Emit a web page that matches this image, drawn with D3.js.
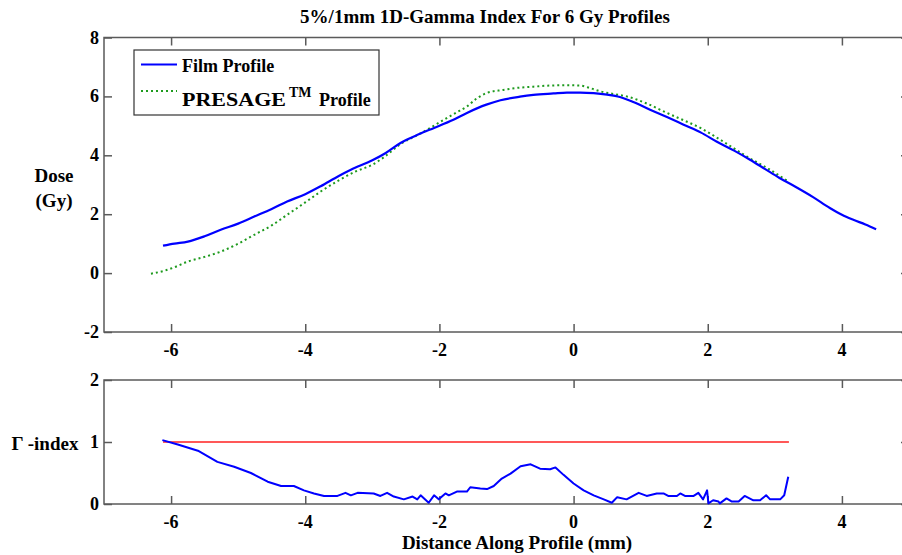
<!DOCTYPE html>
<html>
<head>
<meta charset="utf-8">
<script src="https://cdn.jsdelivr.net/npm/d3@7/dist/d3.min.js"></script>
<style>
  html, body { margin: 0; padding: 0; background: #fff; }
  svg { display: block; }
  text { font-family: "Liberation Serif", "Times New Roman", serif; font-weight: bold; fill: #000; }
</style>
</head>
<body>
<svg id="chart" width="902" height="555"></svg>
<script>
// Axis ticks
const xTicks = [-6, -4, -2, 0, 2, 4];
const doseTicks = [-2, 0, 2, 4, 6, 8];
const gammaTicks = [0, 1, 2];

// Film dose profile (Gy) vs distance (mm)
const filmX = [-6.12, -5.95, -5.75, -5.5, -5.26, -5.0, -4.76, -4.5, -4.27, -4.0, -3.77, -3.5, -3.32, -3.0,
  -2.8, -2.58, -2.3, -2.08, -1.8, -1.59, -1.3, -1.09, -0.8, -0.6, -0.3, -0.1, 0.1, 0.3, 0.5, 0.69, 0.9,
  1.14, 1.4, 1.64, 1.9, 2.13, 2.4, 2.63, 2.85, 3.07, 3.3, 3.57, 3.82, 4.0, 4.17, 4.35, 4.51];
const filmDose = [0.93, 1.0, 1.07, 1.25, 1.47, 1.68, 1.92, 2.18, 2.43, 2.68, 2.95, 3.3, 3.51, 3.83,
  4.08, 4.42, 4.72, 4.93, 5.2, 5.44, 5.72, 5.87, 5.99, 6.05, 6.1, 6.13, 6.13, 6.11, 6.06, 5.98, 5.8,
  5.55, 5.29, 5.04, 4.77, 4.47, 4.15, 3.85, 3.54, 3.23, 2.94, 2.58, 2.21, 1.98, 1.81, 1.65, 1.49];

// PRESAGE dose profile (Gy) vs distance (mm)
const presageX = [-6.3, -6.1, -5.95, -5.75, -5.5, -5.26, -5.0, -4.76, -4.5, -4.27, -4.0, -3.77, -3.5,
  -3.25, -3.0, -2.8, -2.58, -2.3, -1.93, -1.75, -1.59, -1.45, -1.29, -1.05, -0.84, -0.6, -0.35, -0.1,
  0.1, 0.25, 0.4, 0.6, 0.79, 1.1, 1.39, 1.65, 1.89, 2.1, 2.38, 2.58, 2.9, 3.2];
const presageDose = [-0.02, 0.08, 0.2, 0.39, 0.55, 0.73, 1.0, 1.3, 1.62, 1.98, 2.4, 2.77, 3.15,
  3.45, 3.68, 3.98, 4.38, 4.72, 5.21, 5.45, 5.66, 5.92, 6.12, 6.22, 6.29, 6.33, 6.37, 6.38,
  6.37, 6.28, 6.17, 6.08, 6.0, 5.75, 5.44, 5.18, 4.93, 4.65, 4.25, 3.96, 3.55, 3.11];

// 1D gamma index vs distance (mm)
const gammaX = [-6.13, -5.9, -5.6, -5.31, -5.06, -4.81, -4.56, -4.36, -4.17, -4.02, -3.87, -3.72, -3.52,
  -3.4, -3.32, -3.22, -2.98, -2.88, -2.78, -2.68, -2.53, -2.4, -2.33, -2.28, -2.16, -2.08, -2.01, -1.91,
  -1.86, -1.74, -1.59, -1.54, -1.39, -1.29, -1.19, -1.07, -0.94, -0.79, -0.64, -0.5, -0.35, -0.27,
  -0.15, 0.0, 0.15, 0.3, 0.45, 0.57, 0.65, 0.79, 0.97, 1.09, 1.24, 1.34, 1.41, 1.54, 1.59, 1.66, 1.79,
  1.86, 1.93, 1.99, 2.01, 2.08, 2.16, 2.18, 2.28, 2.36, 2.46, 2.55, 2.68, 2.78, 2.87, 2.93, 3.08, 3.14, 3.2];
const gammaVal = [1.03, 0.96, 0.86, 0.68, 0.6, 0.5, 0.36, 0.29, 0.29, 0.22, 0.17, 0.13, 0.13,
  0.18, 0.14, 0.18, 0.17, 0.13, 0.18, 0.12, 0.075, 0.12, 0.075, 0.14, 0.02, 0.14, 0.075, 0.17,
  0.14, 0.2, 0.2, 0.27, 0.25, 0.24, 0.29, 0.41, 0.49, 0.61, 0.64, 0.57, 0.56, 0.59,
  0.47, 0.33, 0.22, 0.14, 0.075, 0.02, 0.11, 0.075, 0.18, 0.13, 0.17, 0.17, 0.13, 0.13, 0.17, 0.13, 0.13,
  0.18, 0.075, 0.22, 0.01, 0.06, 0.04, 0.01, 0.09, 0.04, 0.04, 0.13, 0.06, 0.06, 0.14, 0.075, 0.075, 0.14, 0.44];

// Pass/fail threshold (gamma = 1)
const thresholdX = [-6.12, 3.21];
const thresholdVal = [1, 1];

const FONT = '"Liberation Serif", "Times New Roman", serif';
const svg = d3.select("#chart");
const axisColor = "#5a5a5a";
const tickLen = 8;

const x = d3.scaleLinear().domain([-7, 5]).range([104, 909]);
const yDose = d3.scaleLinear().domain([-2, 8]).range([332, 37.5]);
const yGamma = d3.scaleLinear().domain([0, 2]).range([504, 380]);

const fmt = d => d < 0 ? "-" + Math.abs(d) : String(d);

function drawFrame(yScale, yTicks) {
  const [x0, x1] = x.range();
  const [yb, yt] = yScale.range();
  const g = svg.append("g");
  // inward ticks on all four sides
  const sides = [
    [d3.axisBottom(x), `translate(0,${yb})`, xTicks],
    [d3.axisTop(x), `translate(0,${yt})`, xTicks],
    [d3.axisLeft(yScale), `translate(${x0},0)`, yTicks],
    [d3.axisRight(yScale), `translate(${x1},0)`, yTicks]
  ];
  sides.forEach(([ax, tr, tv]) => {
    g.append("g").attr("transform", tr)
      .call(ax.tickValues(tv).tickSizeInner(-tickLen).tickSizeOuter(0).tickFormat(""))
      .call(a => a.select(".domain").remove());
  });
  g.selectAll(".tick line").attr("stroke", axisColor).attr("stroke-width", 1.5);
  g.append("rect").attr("x", x0).attr("y", yt).attr("width", x1 - x0).attr("height", yb - yt)
    .attr("fill", "none").attr("stroke", axisColor).attr("stroke-width", 1.5);

  // tick labels
  g.selectAll(".ylab").data(yTicks).join("text")
    .attr("x", x0 - 5).attr("y", d => yScale(d) + 6)
    .attr("text-anchor", "end").attr("font-size", 18).attr("font-family", FONT)
    .text(fmt);
  g.selectAll(".xlab").data(xTicks).join("text")
    .attr("x", d => x(d)).attr("y", yb + 24)
    .attr("text-anchor", "middle").attr("font-size", 18).attr("font-family", FONT)
    .text(fmt);
}

drawFrame(yDose, doseTicks);
drawFrame(yGamma, gammaTicks);

const zip = (xs, ys) => xs.map((v, i) => [v, ys[i]]);

const doseLine = d3.line().x(d => x(d[0])).y(d => yDose(d[1])).curve(d3.curveMonotoneX);
const gammaLine = d3.line().x(d => x(d[0])).y(d => yGamma(d[1]));

// dose profiles
svg.append("path").datum(zip(presageX, presageDose)).attr("d", doseLine)
  .attr("fill", "none").attr("stroke", "#1e9a1e").attr("stroke-width", 2)
  .attr("stroke-dasharray", "2,3");
svg.append("path").datum(zip(filmX, filmDose)).attr("d", doseLine)
  .attr("fill", "none").attr("stroke", "#0000ff").attr("stroke-width", 2.2);

// gamma panel
svg.append("path").datum(zip(thresholdX, thresholdVal)).attr("d", gammaLine)
  .attr("fill", "none").attr("stroke", "#ff2020").attr("stroke-width", 1.4);
svg.append("path").datum(zip(gammaX, gammaVal)).attr("d", gammaLine)
  .attr("fill", "none").attr("stroke", "#0000ff").attr("stroke-width", 2)
  .attr("stroke-linejoin", "round");

// title and axis labels
const label = (tx, ty, s, anchor = "middle") =>
  svg.append("text").attr("x", tx).attr("y", ty).attr("text-anchor", anchor)
    .attr("font-size", 19).attr("font-family", FONT).text(s);
label(485, 23, "5%/1mm 1D-Gamma Index For 6 Gy Profiles");
label(517, 549, "Distance Along Profile (mm)");
label(54, 182, "Dose");
label(54, 207, "(Gy)");
label(45, 450, "Γ -index");

// legend
const lg = svg.append("g");
lg.append("rect").attr("x", 134).attr("y", 50).attr("width", 245).attr("height", 65)
  .attr("fill", "#fff").attr("stroke", "#333").attr("stroke-width", 1.2);
lg.append("line").attr("x1", 141).attr("x2", 177).attr("y1", 64.5).attr("y2", 64.5)
  .attr("stroke", "#0000ff").attr("stroke-width", 2.2);
lg.append("line").attr("x1", 141).attr("x2", 177).attr("y1", 91).attr("y2", 91)
  .attr("stroke", "#1e9a1e").attr("stroke-width", 2).attr("stroke-dasharray", "2,3");
lg.append("text").attr("x", 182).attr("y", 72).attr("font-size", 18).attr("font-family", FONT)
  .text("Film Profile");
const t2 = lg.append("text").attr("x", 182).attr("y", 106).attr("font-size", 18).attr("font-family", FONT);
t2.append("tspan").attr("textLength", 104).attr("lengthAdjust", "spacingAndGlyphs").text("PRESAGE");
t2.append("tspan").attr("x", 289).attr("y", 97).attr("font-size", 14).text("TM");
t2.append("tspan").attr("x", 319).attr("y", 106).text("Profile");
</script>
</body>
</html>
